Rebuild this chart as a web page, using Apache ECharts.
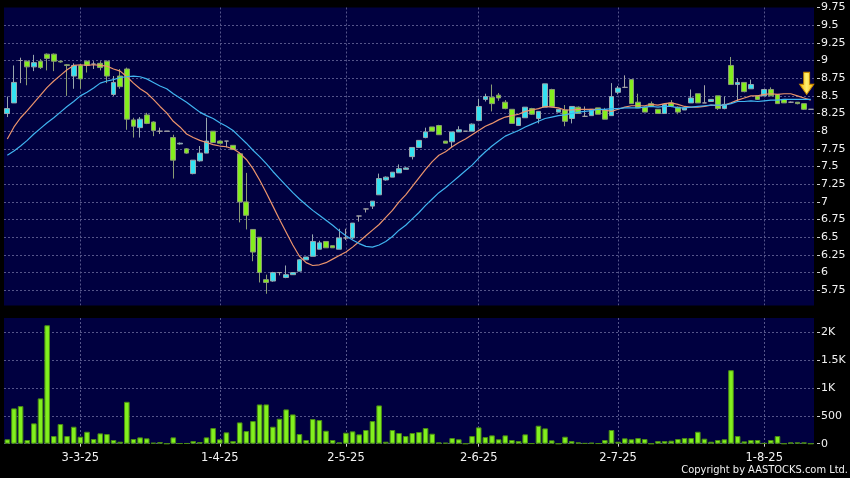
<!DOCTYPE html>
<html><head><meta charset="utf-8">
<script src="https://cdn.jsdelivr.net/npm/echarts@6/dist/echarts.min.js"></script>
<style>html,body{margin:0;padding:0;background:#000;}#c{width:850px;height:478px;}</style>
</head><body><div id="c"></div>
<script>
const dates = ['14-2-25','17-2-25','18-2-25','19-2-25','20-2-25','21-2-25','24-2-25','25-2-25','26-2-25','27-2-25','28-2-25',
'3-3-25','4-3-25','5-3-25','6-3-25','7-3-25','10-3-25','11-3-25','12-3-25','13-3-25','14-3-25','17-3-25','18-3-25','19-3-25','20-3-25','21-3-25','24-3-25','25-3-25','26-3-25','27-3-25','28-3-25','31-3-25',
'1-4-25','2-4-25','3-4-25','7-4-25','8-4-25','9-4-25','10-4-25','11-4-25','14-4-25','15-4-25','16-4-25','17-4-25','22-4-25','23-4-25','24-4-25','25-4-25','28-4-25','29-4-25','30-4-25',
'2-5-25','6-5-25','7-5-25','8-5-25','9-5-25','12-5-25','13-5-25','14-5-25','15-5-25','16-5-25','19-5-25','20-5-25','21-5-25','22-5-25','23-5-25','26-5-25','27-5-25','28-5-25','29-5-25','30-5-25',
'2-6-25','3-6-25','4-6-25','5-6-25','6-6-25','9-6-25','10-6-25','11-6-25','12-6-25','13-6-25','16-6-25','17-6-25','18-6-25','19-6-25','20-6-25','23-6-25','24-6-25','25-6-25','26-6-25','27-6-25','30-6-25',
'2-7-25','3-7-25','4-7-25','7-7-25','8-7-25','9-7-25','10-7-25','11-7-25','14-7-25','15-7-25','16-7-25','17-7-25','18-7-25','21-7-25','22-7-25','23-7-25','24-7-25','25-7-25','28-7-25','29-7-25','30-7-25','31-7-25',
'1-8-25','4-8-25','5-8-25','6-8-25','7-8-25','8-8-25','11-8-25','12-8-25'];

const tickLabels = ['3-3-25','1-4-25','2-5-25','2-6-25','2-7-25','1-8-25'];

const opens = [8.25,8.40,9.00,8.99,8.91,8.99,9.09,9.09,8.99,8.94,
8.78,8.93,8.99,8.95,8.96,8.99,8.52,8.78,8.88,8.16,
8.05,8.23,8.13,8.00,8.00,7.91,7.82,7.75,7.40,7.58,
7.69,8.00,7.86,7.86,7.80,7.68,7.00,6.61,6.50,5.90,
5.88,6.00,5.93,5.97,6.02,6.18,6.23,6.33,6.44,6.38,
6.33,6.49,6.49,6.80,6.90,6.94,7.10,7.31,7.35,7.41,
7.46,7.64,7.77,7.91,8.06,8.08,7.86,7.85,7.99,8.00,
8.00,8.15,8.45,8.48,8.51,8.41,8.31,8.08,8.19,8.32,
8.18,8.34,8.59,8.27,8.30,8.18,8.34,8.21,8.22,8.33,
8.30,8.22,8.55,8.62,8.73,8.41,8.34,8.39,8.31,8.25,
8.40,8.34,8.30,8.40,8.53,8.40,8.42,8.50,8.32,8.93,
8.66,8.69,8.60,8.50,8.50,8.59,8.52,8.45,8.41,8.41,
8.39,8.31];

const closes = [8.32,8.69,9.00,8.91,8.97,8.90,9.03,8.99,8.98,8.93,
8.93,8.74,8.93,8.95,8.90,8.78,8.69,8.63,8.17,8.07,
8.17,8.11,8.01,8.00,8.00,7.59,7.83,7.69,7.59,7.69,
7.86,7.84,7.83,7.86,7.74,7.00,6.81,6.29,6.00,5.86,
6.00,6.00,5.97,6.00,6.18,6.22,6.44,6.42,6.35,6.35,
6.49,6.49,6.70,6.80,6.90,7.01,7.33,7.35,7.42,7.47,
7.48,7.77,7.87,7.99,8.00,7.95,7.83,7.99,8.02,8.00,
8.10,8.35,8.49,8.39,8.47,8.32,8.11,8.19,8.34,8.24,
8.28,8.67,8.35,8.31,8.14,8.35,8.25,8.21,8.31,8.24,
8.17,8.49,8.61,8.62,8.39,8.33,8.27,8.35,8.25,8.38,
8.35,8.27,8.33,8.47,8.40,8.40,8.45,8.32,8.38,8.66,
8.69,8.56,8.66,8.45,8.59,8.50,8.39,8.40,8.41,8.39,
8.31,8.31];

const highs = [8.49,8.93,9.04,9.00,9.08,9.02,9.10,9.10,9.00,8.95,
8.96,8.95,9.00,8.99,8.99,9.00,8.78,8.88,8.90,8.19,
8.20,8.26,8.14,8.05,8.00,7.95,7.84,7.76,7.59,7.79,
8.19,8.00,7.87,7.86,7.80,7.69,7.41,6.61,6.50,5.97,
6.01,6.00,6.10,6.00,6.19,6.22,6.54,6.45,6.44,6.38,
6.62,6.62,6.70,6.80,6.90,7.01,7.40,7.36,7.42,7.53,
7.49,7.77,7.87,8.05,8.06,8.09,7.86,7.99,8.07,8.00,
8.11,8.46,8.53,8.66,8.54,8.44,8.31,8.19,8.34,8.33,
8.28,8.67,8.60,8.31,8.37,8.35,8.35,8.35,8.31,8.33,
8.33,8.68,8.64,8.79,8.73,8.53,8.35,8.42,8.31,8.38,
8.44,8.35,8.33,8.59,8.53,8.65,8.45,8.50,8.49,9.05,
8.75,8.69,8.73,8.50,8.59,8.62,8.52,8.45,8.42,8.41,
8.39,8.31];

const lows = [8.20,8.40,8.68,8.65,8.85,8.88,8.86,8.85,8.97,8.50,
8.60,8.60,8.83,8.88,8.86,8.68,8.50,8.60,8.02,7.91,
7.91,8.10,7.93,7.96,8.00,7.33,7.81,7.68,7.39,7.57,
7.69,7.84,7.83,7.77,7.74,6.71,6.61,6.16,5.86,5.70,
5.87,5.96,5.92,5.97,6.02,6.18,6.23,6.33,6.35,6.35,
6.33,6.46,6.47,6.72,6.85,6.90,7.10,7.30,7.35,7.41,
7.46,7.60,7.77,7.90,8.00,7.95,7.83,7.77,7.99,8.00,
8.00,8.15,8.42,8.28,8.43,8.31,8.11,8.08,8.19,8.23,
8.11,8.34,8.34,8.27,8.07,8.11,8.25,8.21,8.22,8.24,
8.17,8.22,8.52,8.61,8.39,8.33,8.27,8.35,8.25,8.25,
8.34,8.24,8.30,8.40,8.40,8.40,8.42,8.30,8.31,8.66,
8.42,8.55,8.60,8.44,8.50,8.50,8.39,8.40,8.40,8.38,
8.30,8.31];

const volumes = [79,632,673,66,364,811,2120,137,352,137,
304,125,214,84,185,173,66,36,750,84,
113,96,18,30,0,113,6,8,48,30,
113,280,79,203,48,381,226,405,703,703,
304,447,614,524,173,66,441,423,232,66,
24,197,221,167,245,405,685,36,245,191,
137,191,209,280,179,24,18,101,79,0,
137,292,119,149,79,149,66,48,167,6,
322,274,60,0,125,48,24,10,18,6,
66,245,36,96,79,101,84,0,48,48,
54,84,101,101,214,90,36,66,79,1316,
137,42,66,66,10,66,137,0,24,24,
24,0];

const ma10 = [7.89,8.06,8.19,8.29,8.40,8.51,8.62,8.71,8.79,8.87,
8.93,8.94,8.93,8.94,8.93,8.92,8.88,8.85,8.77,8.68,
8.60,8.54,8.45,8.35,8.26,8.14,8.06,7.96,7.91,7.87,
7.84,7.81,7.79,7.78,7.75,7.69,7.60,7.47,7.31,7.13,
6.94,6.75,6.57,6.39,6.23,6.14,6.10,6.11,6.14,6.19,
6.24,6.29,6.36,6.44,6.52,6.60,6.68,6.78,6.88,7.00,
7.10,7.22,7.34,7.46,7.57,7.66,7.71,7.78,7.84,7.89,
7.95,8.01,8.07,8.11,8.16,8.20,8.22,8.24,8.28,8.30,
8.32,8.35,8.34,8.33,8.30,8.30,8.31,8.31,8.31,8.31,
8.30,8.28,8.31,8.34,8.36,8.36,8.36,8.38,8.37,8.39,
8.40,8.38,8.35,8.34,8.34,8.35,8.37,8.36,8.37,8.40,
8.44,8.47,8.50,8.50,8.52,8.53,8.52,8.53,8.53,8.50,
8.47,8.44];

const ma20 = [7.66,7.72,7.79,7.87,7.96,8.04,8.12,8.19,8.27,8.35,
8.42,8.50,8.55,8.61,8.68,8.71,8.73,8.76,8.77,8.78,
8.77,8.74,8.69,8.64,8.60,8.53,8.47,8.41,8.34,8.27,
8.22,8.18,8.12,8.07,8.01,7.92,7.83,7.73,7.64,7.54,
7.43,7.33,7.23,7.13,7.04,6.96,6.88,6.81,6.74,6.67,
6.59,6.52,6.46,6.41,6.37,6.36,6.39,6.44,6.51,6.60,
6.67,6.76,6.85,6.95,7.04,7.13,7.20,7.28,7.36,7.44,
7.52,7.62,7.71,7.79,7.86,7.93,7.97,8.01,8.06,8.10,
8.14,8.18,8.20,8.22,8.23,8.25,8.27,8.28,8.29,8.31,
8.31,8.32,8.32,8.33,8.33,8.33,8.34,8.35,8.34,8.35,
8.35,8.33,8.33,8.34,8.35,8.36,8.37,8.37,8.37,8.39,
8.42,8.42,8.43,8.42,8.43,8.44,8.44,8.45,8.45,8.45,
8.45,8.45];

const arrowPrice = 8.52;

const candleData = dates.map((d, i) => [opens[i], closes[i], lows[i], highs[i]]);
const isMonthStart = (idx, val) => tickLabels.indexOf(val) >= 0;
const FONT = 'DejaVu Sans';
const gridColor = '#55558a';
const vSplit = { show: true, interval: isMonthStart, alignWithLabel: true,
  lineStyle: { color: gridColor, type: [2, 2], width: 1 } };
const hSplit = { show: true, showMaxLine: false, lineStyle: { color: gridColor, type: [2, 2], width: 1 } };

const chart = echarts.init(document.getElementById('c'));
chart.setOption({
  backgroundColor: '#000000',
  animation: false,
  grid: [
    { left: 4, right: 36, top: 7.5, height: 300.4, show: true, backgroundColor: '#000040', borderWidth: 0, outerBoundsMode: 'none' },
    { left: 4, right: 36, top: 318, height: 125.7, show: true, backgroundColor: '#000040', borderWidth: 0, outerBoundsMode: 'none' }
  ],
  xAxis: [
    { type: 'category', data: dates, gridIndex: 0, boundaryGap: true,
      axisLine: { show: false }, axisTick: { show: false }, axisLabel: { show: false }, splitLine: vSplit },
    { type: 'category', data: dates, gridIndex: 1, boundaryGap: true, offset: 2,
      axisLine: { show: false },
      axisTick: { show: true, interval: isMonthStart, alignWithLabel: true, length: 3, lineStyle: { color: '#cfcfcf' } },
      axisLabel: { interval: isMonthStart, color: '#f2f2f2', fontSize: 11.5, fontFamily: FONT, margin: 6 },
      splitLine: vSplit }
  ],
  yAxis: [
    { type: 'value', gridIndex: 0, position: 'right', min: 5.5, max: 9.75, interval: 0.25, offset: 3,
      axisLine: { show: false },
      axisTick: { show: true, length: 3, lineStyle: { color: '#cfcfcf' } },
      axisLabel: { color: '#f2f2f2', fontSize: 11, fontFamily: FONT, margin: 4,
        formatter: v => (v < 5.7 ? '' : String(+v.toFixed(2))) },
      splitLine: hSplit },
    { type: 'value', gridIndex: 1, position: 'right', min: 0, max: 2250, interval: 500, offset: 3,
      axisLine: { show: false },
      axisTick: { show: true, length: 3, lineStyle: { color: '#cfcfcf' } },
      axisLabel: { color: '#f2f2f2', fontSize: 11, fontFamily: FONT, margin: 4,
        formatter: v => (v > 2100 ? '' : v >= 1000 ? (v / 1000) + 'K' : String(v)) },
      splitLine: hSplit }
  ],
  series: [
    { type: 'candlestick', xAxisIndex: 0, yAxisIndex: 0, data: candleData, barWidth: '78%', z: 2,
      itemStyle: { color: '#33e2f2', color0: '#84ee1e', borderColor: '#98a8ae', borderColor0: '#8a9c74',
        borderColorDoji: '#a4a4a4', borderWidth: 1 },
      markPoint: {
        symbol: 'path://M4,0 L10,0 L10,12 L14,12 L7,22 L0,12 L4,12 Z',
        symbolSize: [14, 22], symbolOffset: [-4, '-50%'], symbolKeepAspect: false,
        label: { show: false },
        itemStyle: { color: new echarts.graphic.LinearGradient(0, 0, 1, 0, [
          { offset: 0, color: '#f5b400' }, { offset: 0.5, color: '#fff070' }, { offset: 1, color: '#f5b400' }]),
          borderColor: '#c98a00', borderWidth: 1 },
        data: [{ coord: [dates[dates.length - 1], arrowPrice] }]
      } },
    { type: 'line', name: 'MA10', xAxisIndex: 0, yAxisIndex: 0, data: ma10, showSymbol: false, z: 3,
      lineStyle: { color: '#ec946c', width: 1.2 } },
    { type: 'line', name: 'MA20', xAxisIndex: 0, yAxisIndex: 0, data: ma20, showSymbol: false, z: 3,
      lineStyle: { color: '#40b4f0', width: 1.2 } },
    { type: 'bar', name: 'Volume', xAxisIndex: 1, yAxisIndex: 1, data: volumes, barWidth: '84%',
      itemStyle: { color: '#82f01e', borderColor: '#4a8c14', borderWidth: 1 } }
  ],
  graphic: [
    { type: 'rect', shape: { x: 0, y: 305.5, width: 850, height: 12.5 }, style: { fill: '#000000' }, z: 100, silent: true },
    { type: 'rect', shape: { x: 814, y: 305.5, width: 36, height: 14 }, style: { fill: '#000000' }, z: 100, silent: true },
    { type: 'text', right: 2, top: 465, z: 100, silent: true,
      style: { text: 'Copyright by AASTOCKS.com Ltd.', fill: '#f2f2f2', font: '11px "DejaVu Sans Condensed", "Liberation Sans Narrow", "DejaVu Sans"' } }
  ]
});
</script></body></html>
